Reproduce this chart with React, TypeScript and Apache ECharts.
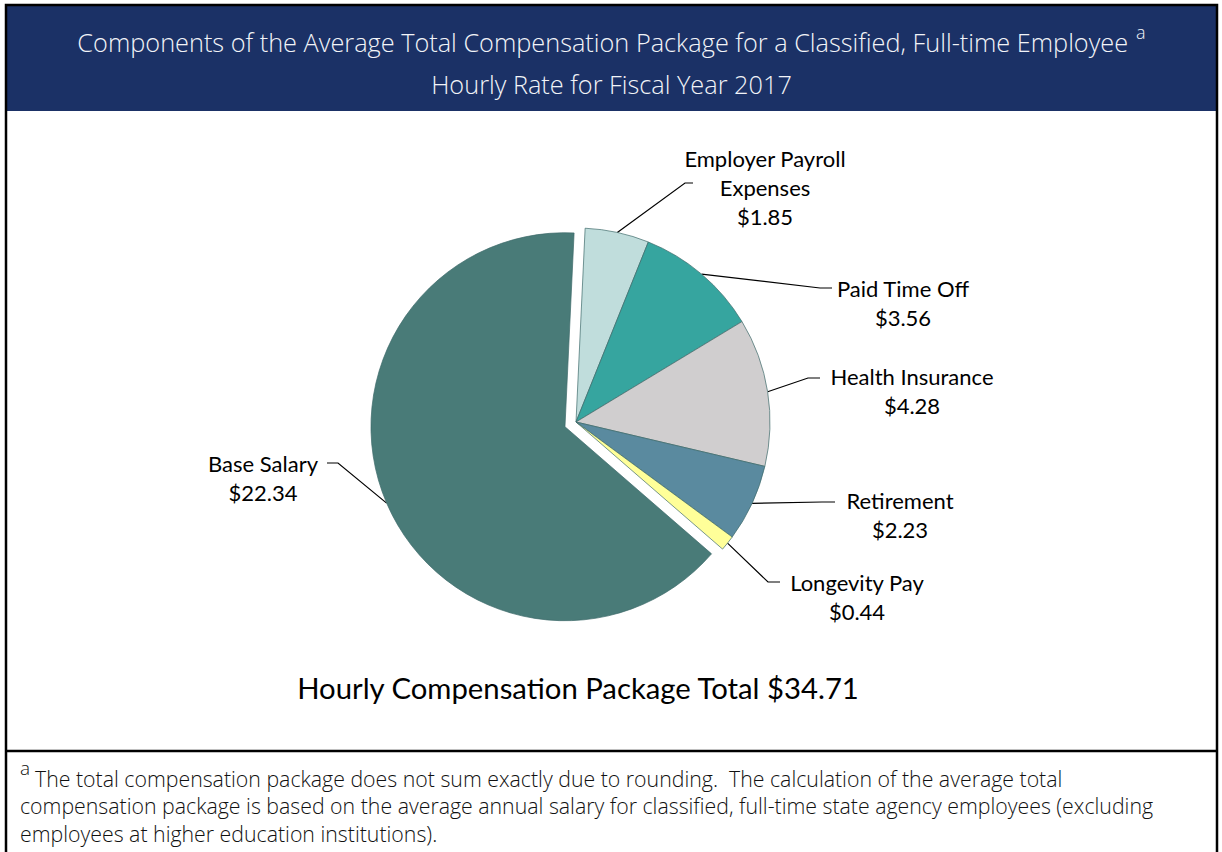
import React, { useEffect, useRef } from 'react';
import * as echarts from 'echarts';

// ---- data ----
const categories = ['Employer Payroll Expenses', 'Paid Time Off', 'Health Insurance', 'Retirement', 'Longevity Pay', 'Base Salary'];
const labelNames = ['Employer Payroll\nExpenses', 'Paid Time Off', 'Health Insurance', 'Retirement', 'Longevity Pay', 'Base Salary'];
const values = [1.85, 3.56, 4.28, 2.23, 0.44, 22.34];
const sliceColors = ['#C0DDDC', '#36A59F', '#D0CECF', '#5A8A9F', '#FFFF99', '#497B78'];
const explodedCategory = 'Base Salary';
const packageTotal = 34.71;
const titleLine1 = 'Components of the Average Total Compensation Package for a Classified, Full-time Employee';
const titleLine2 = 'Hourly Rate for Fiscal Year 2017';
const footnoteMark = 'a';
const footnoteLines = [
  'The total compensation package does not sum exactly due to rounding.  The calculation of the average total',
  'compensation package is based on the average annual salary for classified, full-time state agency employees (excluding',
  'employees at higher education institutions).',
];

// ---- layout ----
const W = 1222;
const H = 852;
const PIE_CX = 576;
const PIE_CY = 422;
const PIE_R = 194;
const START_ANGLE = 87.3;
const EXPLODE = 12;
const NAVY = '#1B3166';
const HEADER_FONT = 'Open Sans';
const LABEL_FONT = 'Lato';

const labelPlacement = [
  { x: 765, y: 144, elbow: [685, 183], end: [693, 183] },
  { x: 903, y: 274, elbow: [820, 288], end: [832, 288] },
  { x: 912, y: 362, elbow: [808, 378], end: [820, 378] },
  { x: 900, y: 486, elbow: [822, 502], end: [835, 502] },
  { x: 857, y: 568, elbow: [768, 582], end: [780, 582] },
  { x: 263, y: 449, elbow: [338, 463], end: [327, 463] },
];

function measure(text: string, font: string): number {
  const c = document.createElement('canvas').getContext('2d');
  if (!c) return text.length * 10;
  c.font = font;
  return c.measureText(text).width;
}

export default function App() {
  const ref = useRef<HTMLDivElement>(null);

  useEffect(() => {
    document.body.style.margin = '0';
    if (!ref.current) return;
    const chart = echarts.init(ref.current, undefined, { renderer: 'svg' });

    const total = values.reduce((a, b) => a + b, 0);
    const rot = 90 - START_ANGLE;
    let cum = 0;
    const midAngles = values.map((v) => {
      const a = rot + ((cum + v / 2) / total) * 360;
      cum += v;
      return a;
    });
    const exIdx = categories.indexOf(explodedCategory);
    const exT = (midAngles[exIdx] * Math.PI) / 180;
    const exCenter = [PIE_CX + EXPLODE * Math.sin(exT), PIE_CY - EXPLODE * Math.cos(exT)];
    const anchors = values.map((_, i) => {
      const t = (midAngles[i] * Math.PI) / 180;
      const c = i === exIdx ? exCenter : [PIE_CX, PIE_CY];
      return [c[0] + PIE_R * Math.sin(t), c[1] - PIE_R * Math.cos(t)];
    });

    const titleFont = `300 25.3px "${HEADER_FONT}"`;
    const supFont = `300 18px "${HEADER_FONT}"`;
    const tw = measure(titleLine1, titleFont);
    const sw = measure(footnoteMark, supFont);
    const gap = 8;
    const headerCenter = 611.5;
    const titleLeft = headerCenter - (tw + gap + sw) / 2;

    const makeSeries = (center: number[], showIdx: (i: number) => boolean) => ({
      type: 'pie',
      center,
      radius: PIE_R,
      startAngle: START_ANGLE,
      clockwise: true,
      avoidLabelOverlap: false,
      emphasis: { disabled: true },
      itemStyle: { borderColor: '#3E6A6A', borderWidth: 0.7 },
      label: {
        show: true,
        position: 'outside',
        color: '#000',
        fontFamily: LABEL_FONT,
        fontSize: 22,
        lineHeight: 29,
        align: 'center',
        formatter: (p: any) => `${labelNames[p.dataIndex]}\n$${values[p.dataIndex].toFixed(2)}`,
      },
      labelLine: { show: true, smooth: false, lineStyle: { color: '#000', width: 1.2 } },
      labelLayout: (p: any) => {
        const pl = labelPlacement[p.dataIndex];
        if (!pl) return {};
        return {
          x: pl.x,
          y: pl.y,
          align: 'center',
          verticalAlign: 'top',
          labelLinePoints: [anchors[p.dataIndex], pl.elbow, pl.end],
        };
      },
      data: categories.map((name, i) => {
        const vis = showIdx(i);
        return {
          name,
          value: values[i],
          itemStyle: vis ? { color: sliceColors[i] } : { color: 'rgba(0,0,0,0)', borderWidth: 0 },
          label: { show: vis },
          labelLine: { show: vis },
        };
      }),
    });

    const option: any = {
      animation: false,
      backgroundColor: '#ffffff',
      series: [
        makeSeries([PIE_CX, PIE_CY], (i) => i !== exIdx),
        makeSeries(exCenter, (i) => i === exIdx),
      ],
      graphic: [
        { type: 'rect', z: 1, shape: { x: 7, y: 6, width: 1209, height: 105 }, style: { fill: NAVY } },
        {
          type: 'text', z: 5, x: titleLeft, y: 42,
          style: { text: titleLine1, fill: '#F2F4F8', font: titleFont, textAlign: 'left', textVerticalAlign: 'middle' },
        },
        {
          type: 'text', z: 5, x: titleLeft + tw + gap, y: 32,
          style: { text: footnoteMark, fill: '#F2F4F8', font: supFont, textAlign: 'left', textVerticalAlign: 'middle' },
        },
        {
          type: 'text', z: 5, x: headerCenter, y: 84,
          style: { text: titleLine2, fill: '#F2F4F8', font: titleFont, textAlign: 'center', textVerticalAlign: 'middle' },
        },
        {
          type: 'text', z: 5, x: 578, y: 687,
          style: {
            text: `Hourly Compensation Package Total $${packageTotal.toFixed(2)}`,
            fill: '#000', font: `29.3px "${LABEL_FONT}"`, textAlign: 'center', textVerticalAlign: 'middle',
          },
        },
        {
          type: 'text', z: 5, x: 20, y: 768,
          style: { text: footnoteMark, fill: '#111', font: `300 19px "${HEADER_FONT}"`, textAlign: 'left', textVerticalAlign: 'middle' },
        },
        ...footnoteLines.map((t, i) => ({
          type: 'text', z: 5, x: i === 0 ? 35 : 20, y: 778 + i * 27.5,
          style: { text: t, fill: '#111', font: `300 21.3px "${HEADER_FONT}"`, textAlign: 'left', textVerticalAlign: 'middle' },
        })),
        {
          type: 'rect', z: 10, shape: { x: 6, y: 5, width: 1211, height: 900 },
          style: { fill: 'none', stroke: '#000', lineWidth: 2.5 },
        },
        {
          type: 'line', z: 10, shape: { x1: 6, y1: 751, x2: 1217, y2: 751 },
          style: { stroke: '#000', lineWidth: 2.5 },
        },
      ],
    };

    chart.setOption(option);
    return () => chart.dispose();
  }, []);

  return <div ref={ref} style={{ width: W, height: H }} />;
}
